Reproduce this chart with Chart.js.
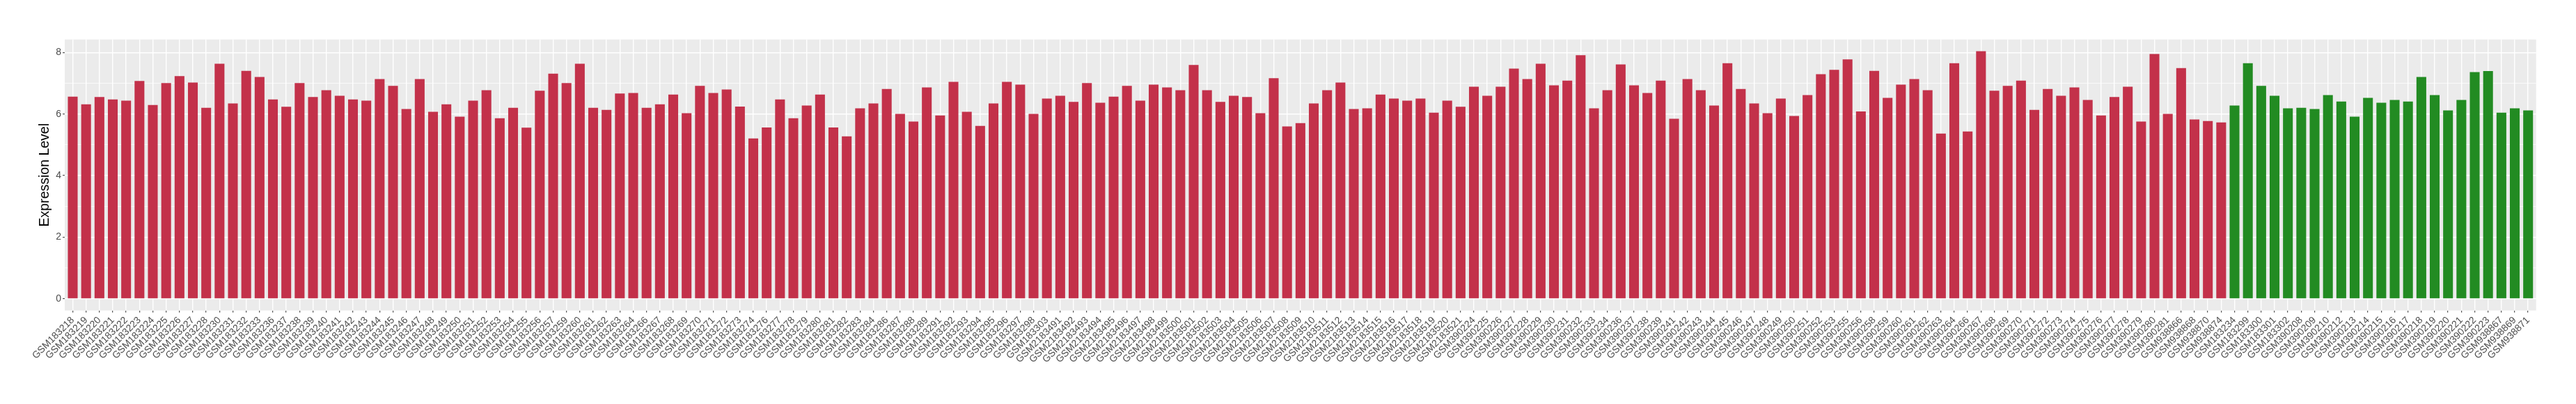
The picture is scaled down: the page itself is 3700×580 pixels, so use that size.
<!DOCTYPE html>
<html>
<head>
<meta charset="utf-8">
<script src="https://cdn.jsdelivr.net/npm/chart.js@4.4.1/dist/chart.umd.min.js"></script>
<style>
html,body{margin:0;padding:0;background:#ffffff;}
#wrap{width:3700px;height:580px;position:relative;}
</style>
</head>
<body>
<div id="wrap"><canvas id="c" width="3700" height="580"></canvas></div>
<script>
// ---- data ----
const samples = [
"GSM183218","GSM183219","GSM183220","GSM183221","GSM183222","GSM183223","GSM183224","GSM183225","GSM183226","GSM183227",
"GSM183228","GSM183230","GSM183231","GSM183232","GSM183233","GSM183236","GSM183237","GSM183238","GSM183239","GSM183240",
"GSM183241","GSM183242","GSM183243","GSM183244","GSM183245","GSM183246","GSM183247","GSM183248","GSM183249","GSM183250",
"GSM183251","GSM183252","GSM183253","GSM183254","GSM183255","GSM183256","GSM183257","GSM183259","GSM183260","GSM183261",
"GSM183262","GSM183263","GSM183264","GSM183266","GSM183267","GSM183268","GSM183269","GSM183270","GSM183271","GSM183272",
"GSM183273","GSM183274","GSM183276","GSM183277","GSM183278","GSM183279","GSM183280","GSM183281","GSM183282","GSM183283",
"GSM183284","GSM183286","GSM183287","GSM183288","GSM183289","GSM183291","GSM183292","GSM183293","GSM183294","GSM183295",
"GSM183296","GSM183297","GSM183298","GSM183303",
"GSM2183491","GSM2183492","GSM2183493","GSM2183494","GSM2183495","GSM2183496","GSM2183497","GSM2183498","GSM2183499","GSM2183500",
"GSM2183501","GSM2183502","GSM2183503","GSM2183504","GSM2183505","GSM2183506","GSM2183507","GSM2183508","GSM2183509","GSM2183510",
"GSM2183511","GSM2183512","GSM2183513","GSM2183514","GSM2183515","GSM2183516","GSM2183517","GSM2183518","GSM2183519","GSM2183520",
"GSM2183521",
"GSM390224","GSM390225","GSM390226","GSM390227","GSM390228","GSM390229","GSM390230","GSM390231","GSM390232","GSM390233",
"GSM390234","GSM390236","GSM390237","GSM390238","GSM390239","GSM390241","GSM390242","GSM390243","GSM390244","GSM390245",
"GSM390246","GSM390247","GSM390248","GSM390249","GSM390250","GSM390251","GSM390252","GSM390253","GSM390255","GSM390256",
"GSM390258","GSM390259","GSM390260","GSM390261","GSM390262","GSM390263","GSM390264","GSM390266","GSM390267","GSM390268",
"GSM390269","GSM390270","GSM390271","GSM390272","GSM390273","GSM390274","GSM390275","GSM390276","GSM390277","GSM390278",
"GSM390279","GSM390280","GSM390281",
"GSM938866","GSM938868","GSM938870","GSM938874",
"GSM183234","GSM183299","GSM183300","GSM183301","GSM183302","GSM390208","GSM390209","GSM390210","GSM390212","GSM390213",
"GSM390214","GSM390215","GSM390216","GSM390217","GSM390218","GSM390219","GSM390220","GSM390221","GSM390222","GSM390223",
"GSM938867","GSM938869","GSM938871"
];

const expression = [
6.56,6.31,6.55,6.47,6.43,7.07,6.29,7.00,7.23,7.02,
6.20,7.63,6.34,7.40,7.20,6.47,6.23,7.00,6.55,6.77,
6.59,6.47,6.43,7.13,6.91,6.16,7.13,6.07,6.31,5.91,
6.43,6.77,5.86,6.20,5.55,6.75,7.31,7.00,7.63,6.20,
6.13,6.66,6.68,6.20,6.31,6.63,6.02,6.91,6.68,6.79,
6.24,5.20,5.56,6.47,5.86,6.27,6.63,5.56,5.27,6.18,
6.34,6.81,6.00,5.75,6.86,5.95,7.04,6.07,5.61,6.34,
7.04,6.95,6.00,6.50,
6.59,6.39,7.00,6.36,6.56,6.91,6.43,6.95,6.86,6.77,
7.59,6.77,6.39,6.59,6.55,6.02,7.16,5.59,5.70,6.34,
6.77,7.02,6.16,6.18,6.63,6.50,6.43,6.50,6.04,6.43,
6.23,
6.88,6.59,6.88,7.47,7.13,7.63,6.93,7.08,7.91,6.18,
6.77,7.61,6.93,6.68,7.08,5.84,7.13,6.77,6.27,7.65,
6.81,6.34,6.02,6.50,5.93,6.61,7.29,7.43,7.77,6.08,
7.40,6.52,6.95,7.13,6.77,5.36,7.65,5.43,8.04,6.75,
6.91,7.08,6.13,6.81,6.59,6.86,6.45,5.95,6.55,6.88,
5.75,7.95,6.00,
7.49,5.82,5.77,5.72,
6.27,7.65,6.91,6.59,6.18,6.20,6.16,6.61,6.40,5.91,
6.52,6.36,6.45,6.40,7.20,6.61,6.11,6.45,7.36,7.39,
6.04,6.18,6.11
];

const normalSamples = [
"GSM183234","GSM183299","GSM183300","GSM183301","GSM183302","GSM390208","GSM390209","GSM390210","GSM390212","GSM390213",
"GSM390214","GSM390215","GSM390216","GSM390217","GSM390218","GSM390219","GSM390220","GSM390221","GSM390222","GSM390223",
"GSM938867","GSM938869","GSM938871"
];

const yTickLabels = [0, 2, 4, 6, 8];
const yAxisTitle = "Expression Level";

// ---- styling ----
const TUMOR_COLOR = "#C3314A";
const NORMAL_COLOR = "#228B22";
const FONT = "'Liberation Sans', Arial, Helvetica, sans-serif";

const barColors = samples.map(s => normalSamples.includes(s) ? NORMAL_COLOR : TUMOR_COLOR);

const panelBg = {
  id: 'panelBg',
  beforeDraw(chart) {
    const {ctx, chartArea: a} = chart;
    ctx.save();
    ctx.fillStyle = '#ffffff';
    ctx.fillRect(0, 0, chart.width, chart.height);
    ctx.fillStyle = '#EBEBEB';
    ctx.fillRect(a.left, a.top, a.right - a.left, a.bottom - a.top);
    ctx.restore();
  }
};

Chart.defaults.font.family = FONT;

new Chart(document.getElementById('c'), {
  type: 'bar',
  data: {
    datasets: [{
      data: expression.map((v, i) => ({x: i, y: v})),
      backgroundColor: barColors,
      borderWidth: 0,
      barThickness: 'flex',
      barPercentage: 0.7,
      categoryPercentage: 1.0
    }]
  },
  options: {
    responsive: false,
    animation: false,
    devicePixelRatio: 1,
    layout: { padding: { left: 0, top: 56.7, right: 57.3, bottom: 0 } },
    plugins: { legend: { display: false }, tooltip: { enabled: false } },
    scales: {
      x: {
        type: 'linear',
        min: -0.6,
        max: samples.length - 1 + 0.6,
        offset: false,
        bounds: 'ticks',
        afterFit(scale) { scale.height = 134.3; },
        grid: {
          offset: false,
          color: '#ffffff',
          lineWidth: 1.4,
          drawTicks: true,
          tickLength: 3,
          tickColor: '#333333',
          tickWidth: 1
        },
        border: { display: false },
        ticks: {
          stepSize: 1,
          includeBounds: false,
          autoSkip: false,
          minRotation: 45,
          maxRotation: 45,
          padding: 6,
          color: '#4D4D4D',
          font: { size: 14, family: FONT, lineHeight: 0.57 },
          callback: (v) => samples[Math.round(v)] ?? ''
        }
      },
      y: {
        type: 'linear',
        min: -0.385,
        max: 8.426,
        afterFit(scale) { scale.width = 93; },
        grid: {
          color: '#ffffff',
          lineWidth: (c) => (c.tick && yTickLabels.includes(c.tick.value)) ? 1.4 : 0.7,
          drawTicks: true,
          tickLength: 3,
          tickColor: (c) => (c.tick && yTickLabels.includes(c.tick.value)) ? '#333333' : 'rgba(0,0,0,0)',
          tickWidth: 1
        },
        border: { display: false },
        ticks: {
          stepSize: 1,
          includeBounds: false,
          padding: 2,
          color: '#4D4D4D',
          font: { size: 14, family: FONT },
          callback: (v) => yTickLabels.includes(v) ? String(v) : ''
        },
        title: {
          display: true,
          text: yAxisTitle,
          color: '#000000',
          font: { size: 19.5, family: FONT },
          padding: { top: 52.8, bottom: 0 }
        }
      }
    }
  },
  plugins: [panelBg]
});
</script>
</body>
</html>
